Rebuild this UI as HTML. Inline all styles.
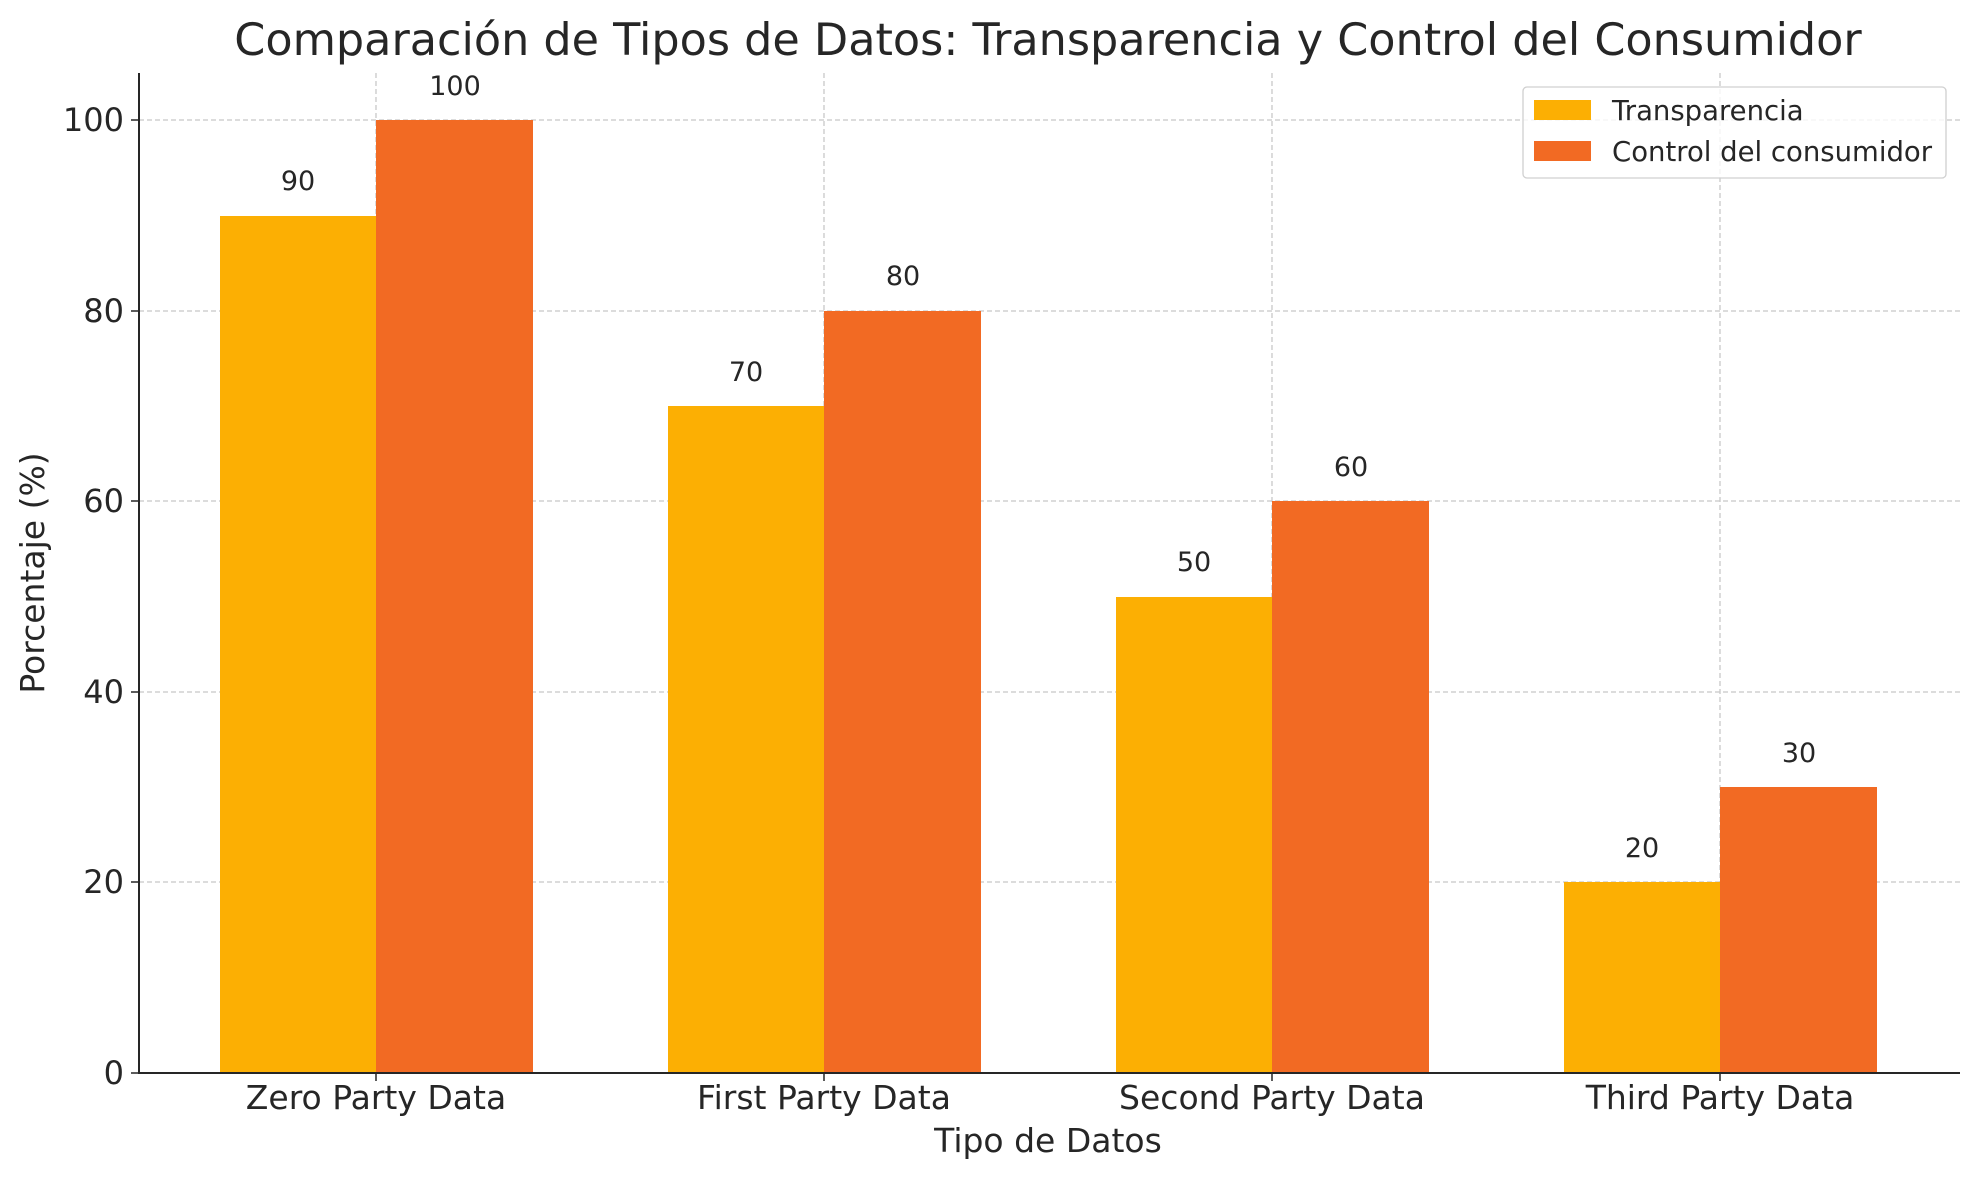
<!DOCTYPE html>
<html><head><meta charset="utf-8"><style>body{margin:0;background:#fff}svg{display:block}text{font-family:"DejaVu Sans","Liberation Sans",sans-serif;fill:#262626}</style></head><body>
<svg width="1979" height="1180" xmlns="http://www.w3.org/2000/svg">
<rect width="1979" height="1180" fill="#fff"/>
<g stroke="#c8c8c8" stroke-width="1.3" stroke-dasharray="5,3">
<line x1="139" x2="1960" y1="120" y2="120"/><line x1="139" x2="1960" y1="311" y2="311"/><line x1="139" x2="1960" y1="501" y2="501"/><line x1="139" x2="1960" y1="692" y2="692"/><line x1="139" x2="1960" y1="882" y2="882"/>
<line x1="376" x2="376" y1="73" y2="1073"/><line x1="824" x2="824" y1="73" y2="1073"/><line x1="1272" x2="1272" y1="73" y2="1073"/><line x1="1720" x2="1720" y1="73" y2="1073"/>
</g>
<g fill="#fcaf03">
<rect x="220" y="216" width="156" height="857"/><rect x="668" y="406" width="156" height="667"/><rect x="1116" y="597" width="156" height="476"/><rect x="1564" y="882" width="156" height="191"/>
</g>
<g fill="#f26a23">
<rect x="376" y="120" width="157" height="953"/><rect x="824" y="311" width="157" height="762"/><rect x="1272" y="501" width="157" height="572"/><rect x="1720" y="787" width="157" height="286"/>
</g>
<g font-size="27" text-anchor="middle">
<text x="298" y="190">90</text><text x="455" y="95">100</text>
<text x="746" y="381">70</text><text x="903" y="285">80</text>
<text x="1194" y="571">50</text><text x="1351" y="476">60</text>
<text x="1642" y="857">20</text><text x="1799" y="762">30</text>
</g>
<line x1="139" x2="139" y1="73" y2="1074" stroke="#262626" stroke-width="2"/>
<line x1="138" x2="1960" y1="1073" y2="1073" stroke="#262626" stroke-width="2"/>
<g stroke="#262626" stroke-width="1.5">
<line x1="131" x2="139" y1="120" y2="120"/><line x1="131" x2="139" y1="311" y2="311"/><line x1="131" x2="139" y1="501" y2="501"/><line x1="131" x2="139" y1="692" y2="692"/><line x1="131" x2="139" y1="882" y2="882"/><line x1="131" x2="139" y1="1073" y2="1073"/>
<line x1="376" x2="376" y1="1073" y2="1081"/><line x1="824" x2="824" y1="1073" y2="1081"/><line x1="1272" x2="1272" y1="1073" y2="1081"/><line x1="1720" x2="1720" y1="1073" y2="1081"/>
</g>
<g font-size="32" text-anchor="end">
<text x="124" y="131">100</text><text x="124" y="322">80</text><text x="124" y="512">60</text><text x="124" y="703">40</text><text x="124" y="893">20</text><text x="124" y="1084">0</text>
</g>
<g font-size="33" text-anchor="middle">
<text x="376" y="1109">Zero Party Data</text><text x="824" y="1109">First Party Data</text><text x="1272" y="1109">Second Party Data</text><text x="1720" y="1109">Third Party Data</text>
<text x="1048" y="1152">Tipo de Datos</text>
<text transform="translate(44,573) rotate(-90)">Porcentaje (%)</text>
</g>
<text x="1048" y="55" font-size="44.5" text-anchor="middle">Comparación de Tipos de Datos: Transparencia y Control del Consumidor</text>
<rect x="1523" y="87" width="423" height="91" rx="4" fill="#fff" fill-opacity="0.8" stroke="#d0d0d0" stroke-width="1.3"/>
<rect x="1534" y="100" width="57" height="20" fill="#fcaf03"/>
<rect x="1534" y="141" width="57" height="20" fill="#f26a23"/>
<g font-size="27.5"><text x="1612" y="120">Transparencia</text><text x="1612" y="161">Control del consumidor</text></g>
</svg>
</body></html>
